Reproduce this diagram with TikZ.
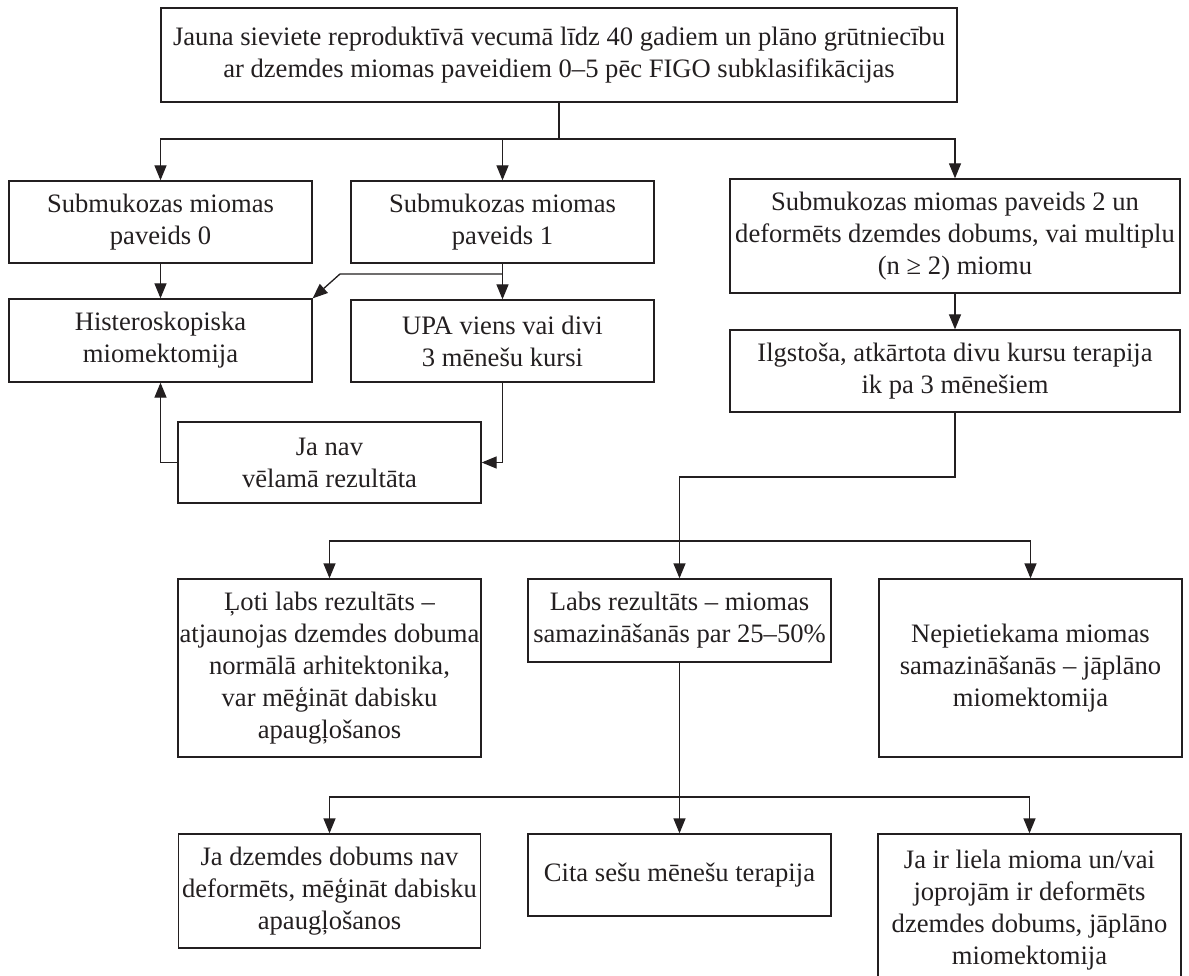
\documentclass[tikz,border=0pt]{standalone}
\usepackage{fontspec}
\setmainfont{Liberation Serif}
\usetikzlibrary{arrows.meta}
\definecolor{linecol}{HTML}{231F20}
\begin{document}
\begin{tikzpicture}[x=1pt,y=-1pt,
  box/.style={draw=linecol, line width=1.3pt, align=center, inner sep=0pt,
    font=\fontsize{26.6}{32}\selectfont, text=linecol},
  conn/.style={draw=linecol, line width=1.3pt},
  arr/.style={conn, -{Triangle[length=15pt,width=12pt]}}]
\useasboundingbox (0,0) rectangle (1189,976);
\clip (0,0) rectangle (1189,976);
\fill[white] (0,0) rectangle (1189,976);

\node[box, minimum width=796pt, minimum height=94pt] (top) at (559,55)
  {Jauna sieviete reproduktīvā vecumā līdz 40 gadiem un plāno grūtniecību\\ ar dzemdes miomas paveidiem 0–5 pēc FIGO subklasifikācijas};
\node[box, minimum width=303pt, minimum height=82pt] (b0) at (160.5,222)
  {Submukozas miomas\\ paveids 0};
\node[box, minimum width=303pt, minimum height=82pt] (b1) at (502.5,222)
  {Submukozas miomas\\ paveids 1};
\node[box, minimum width=450pt, minimum height=114pt] (b2) at (955,236)
  {Submukozas miomas paveids 2 un\\ deformēts dzemdes dobums, vai multiplu\\ (n ≥ 2) miomu};
\node[box, minimum width=303pt, minimum height=83pt] (hist) at (160.5,340.5)
  {Histeroskopiska\\ miomektomija};
\node[box, minimum width=303pt, minimum height=82pt] (upa) at (502.5,341)
  {UPA viens vai divi\\ 3 mēnešu kursi};
\node[box, minimum width=303pt, minimum height=81pt] (janav) at (329.5,462.5)
  {Ja nav\\ vēlamā rezultāta};
\node[box, minimum width=450pt, minimum height=82pt] (ilg) at (955,371)
  {Ilgstoša, atkārtota divu kursu terapija\\ ik pa 3 mēnešiem};
\node[box, minimum width=303pt, minimum height=178pt] (loti) at (329.5,668)
  {Ļoti labs rezultāts –\\ atjaunojas dzemdes dobuma\\ normālā arhitektonika,\\ var mēģināt dabisku\\ apaugļošanos};
\node[box, minimum width=303pt, minimum height=83pt] (labs) at (679.5,620.5)
  {Labs rezultāts – miomas\\ samazināšanās par 25–50\%};
\node[box, minimum width=303pt, minimum height=178pt] (nep) at (1030.5,668)
  {Nepietiekama miomas\\ samazināšanās – jāplāno\\ miomektomija};
\node[box, minimum width=302pt, minimum height=114pt] (jadz) at (329.5,891)
  {Ja dzemdes dobums nav\\ deformēts, mēģināt dabisku\\ apaugļošanos};
\node[box, minimum width=303pt, minimum height=82pt] (cita) at (679.5,875)
  {Cita sešu mēnešu terapija};
\node[box, minimum width=303pt, minimum height=152pt] (jair) at (1029.5,910)
  {Ja ir liela mioma un/vai\\ joprojām ir deformēts\\ dzemdes dobums, jāplāno\\ miomektomija};

% top distribution
\coordinate (j1) at (559,139);
\draw[conn] (top.south) -- (j1);
\draw[arr] (j1) -| (b0.north);
\draw[arr] (j1 -| b1.north) -- (b1.north);
\draw[arr] (j1) -| (b2.north);

% left column
\draw[arr] (b0.south) -- (hist.north);
\draw[arr] (b1.south) -- (upa.north);
\coordinate (j2) at (502.5,274);
\coordinate (k2) at (340,274);
\draw[arr] (j2) -- (k2) -- (hist.north east);
\draw[arr] (upa.south) |- (janav.east);
\draw[arr] (janav.west) -| (hist.south);

% right column
\draw[arr] (b2.south) -- (ilg.north);
\coordinate (j3) at (679.5,477);
\coordinate (j4) at (679.5,541);
\draw[conn] (ilg.south) |- (j3) -- (j4);
\draw[arr] (j4) -- (labs.north);
\draw[arr] (j4) -| (loti.north);
\draw[arr] (j4) -| (nep.north);

% bottom distribution
\coordinate (j5) at (679.5,797);
\draw[conn] (labs.south) -- (j5);
\draw[arr] (j5) -- (cita.north);
\draw[arr] (j5) -| (jadz.north);
\draw[arr] (j5) -| (jair.north);
\end{tikzpicture}
\end{document}
